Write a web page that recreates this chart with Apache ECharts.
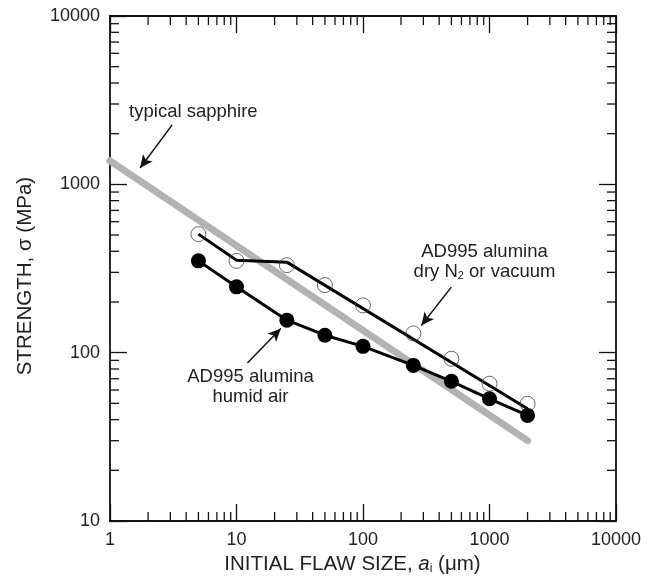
<!DOCTYPE html>
<html>
<head>
<meta charset="utf-8">
<script src="https://cdn.jsdelivr.net/npm/echarts@6/dist/echarts.min.js"></script>
<style>
  html, body { margin: 0; padding: 0; background: #fff; }
  #chart { width: 655px; height: 578px; }
</style>
</head>
<body>
<div id="chart"></div>
<script>
// flaw size (um) and strength (MPa)
const flawSize = [5, 10, 25, 50, 100, 250, 500, 1000, 2000]
const humidAir = [351, 246, 156, 127, 109, 84, 67.6, 53.2, 42.4]
const dryN2 = [506, 351, 331, 252, 191, 130, 92, 65.4, 49.7]
// hand-drawn fit through the dry N2 points
const dryFitX = [5, 10, 25, 2000]
const dryFitY = [506, 354, 345, 46.4]
// typical sapphire band
const sapphireX = [1, 2000]
const sapphireY = [1380, 30]

// axes
const xRange = [1, 10000]
const yRange = [10, 10000]
const xDecades = [1, 10, 100, 1000]
const yDecades = [10, 100, 1000]
const mantissas = [2, 3, 4, 5, 6, 7, 8, 9]

const FONT = 'Liberation Sans, Arial, Helvetica, sans-serif'

const pairs = (xs, ys) => xs.map((x, i) => [x, ys[i]])

let xMinor = []
xDecades.forEach(d => mantissas.forEach(m => xMinor.push([d * m, yRange[0]])))
let yMinor = []
yDecades.forEach(d => mantissas.forEach(m => yMinor.push([xRange[0], d * m])))

const MINOR_LEN = 9

function logAxis (range, pos, showLabel, extra) {
  return Object.assign({
    type: 'log',
    logBase: 10,
    min: range[0],
    max: range[1],
    position: pos,
    axisLine: { onZero: false, lineStyle: { color: '#111', width: 1.8 } },
    axisTick: { inside: true, length: 17, lineStyle: { color: '#111', width: 1.3 } },
    axisLabel: {
      show: showLabel,
      fontFamily: FONT,
      fontSize: 18,
      color: '#222',
      formatter: v => String(Math.round(v))
    },
    splitLine: { show: false }
  }, extra || {})
}

const chart = echarts.init(document.getElementById('chart'))

chart.setOption({
  animation: false,
  backgroundColor: '#fff',
  grid: { left: 110, right: 39, top: 16, bottom: 57, outerBoundsMode: 'none' },
  xAxis: [
    logAxis(xRange, 'bottom', true, {
      name: 'INITIAL FLAW SIZE, {it|a}{sub|i} (\u03bcm)',
      nameLocation: 'middle',
      nameGap: 28,
      nameTextStyle: {
        fontFamily: FONT,
        fontSize: 20.5,
        color: '#222',
        padding: [0, 21, 0, 0],
        rich: {
          it: { fontFamily: FONT, fontSize: 20.5, fontStyle: 'italic', color: '#222' },
          sub: { fontFamily: FONT, fontSize: 12, color: '#222', verticalAlign: 'bottom', lineHeight: 8 }
        }
      },
      axisLabel: {
        fontFamily: FONT, fontSize: 18, color: '#222', margin: 10,
        formatter: v => String(Math.round(v))
      }
    }),
    logAxis(xRange, 'top', false)
  ],
  yAxis: [
    logAxis(yRange, 'left', true, {
      name: 'STRENGTH, \u03c3 (MPa)',
      nameLocation: 'middle',
      nameGap: 74,
      nameTextStyle: { fontFamily: FONT, fontSize: 20.5, color: '#222', padding: [0, 15, 0, 0] },
      axisLabel: {
        fontFamily: FONT, fontSize: 18, color: '#222', margin: 10,
        formatter: v => String(Math.round(v))
      }
    }),
    logAxis(yRange, 'right', false)
  ],
  series: [
    {
      name: 'typical sapphire',
      type: 'line',
      data: pairs(sapphireX, sapphireY),
      symbol: 'none',
      lineStyle: { color: '#b3b3b3', width: 7, cap: 'round' },
      z: 1,
      silent: true
    },
    {
      name: 'dry fit',
      type: 'line',
      data: pairs(dryFitX, dryFitY),
      symbol: 'none',
      lineStyle: { color: '#000', width: 3 },
      z: 3,
      silent: true
    },
    {
      name: 'AD995 alumina dry N2 or vacuum',
      type: 'scatter',
      data: pairs(flawSize, dryN2),
      symbol: 'circle',
      symbolSize: 15,
      itemStyle: { color: 'rgba(255,255,255,0)', borderColor: '#444', borderWidth: 1 },
      z: 4,
      silent: true
    },
    {
      name: 'AD995 alumina humid air',
      type: 'line',
      data: pairs(flawSize, humidAir),
      symbol: 'circle',
      symbolSize: 15,
      showAllSymbol: true,
      lineStyle: { color: '#000', width: 3 },
      itemStyle: { color: '#000' },
      z: 5,
      silent: true,
      markLine: {
        silent: true,
        symbol: ['none', 'arrow'],
        symbolSize: [9, 13],
        label: { show: false },
        lineStyle: { color: '#111', width: 1.5, type: 'solid' },
        data: [
          [{ coord: [3.1, 2254] }, { coord: [1.73, 1250] }],
          [{ coord: [499, 245] }, { coord: [289, 145] }],
          [{ coord: [12.2, 86.7] }, { coord: [22.4, 139] }]
        ]
      }
    },
    {
      // minor ticks on bottom and top
      type: 'custom',
      data: xMinor,
      silent: true,
      z: 6,
      renderItem (params, api) {
        const b = api.coord([api.value(0), yRange[0]])
        const t = api.coord([api.value(0), yRange[1]])
        const style = { stroke: '#111', lineWidth: 1.3 }
        return {
          type: 'group',
          children: [
            { type: 'line', shape: { x1: b[0], y1: b[1], x2: b[0], y2: b[1] - MINOR_LEN }, style },
            { type: 'line', shape: { x1: t[0], y1: t[1], x2: t[0], y2: t[1] + MINOR_LEN }, style }
          ]
        }
      }
    },
    {
      // minor ticks on left and right
      type: 'custom',
      data: yMinor,
      silent: true,
      z: 6,
      renderItem (params, api) {
        const l = api.coord([xRange[0], api.value(1)])
        const r = api.coord([xRange[1], api.value(1)])
        const style = { stroke: '#111', lineWidth: 1.3 }
        return {
          type: 'group',
          children: [
            { type: 'line', shape: { x1: l[0], y1: l[1], x2: l[0] + MINOR_LEN, y2: l[1] }, style },
            { type: 'line', shape: { x1: r[0], y1: r[1], x2: r[0] - MINOR_LEN, y2: r[1] }, style }
          ]
        }
      }
    }
  ]
})

// annotations, anchored in data space
const notes = [
  { at: [4.56, 2692], text: 'typical sapphire' },
  { at: [913, 346], text: 'AD995 alumina\ndry N{sub|2} or vacuum' },
  { at: [12.9, 62.4], text: 'AD995 alumina\nhumid air' }
]

chart.setOption({
  graphic: notes.map(n => {
    const p = chart.convertToPixel({ gridIndex: 0 }, n.at)
    return {
      type: 'text',
      x: p[0],
      y: p[1],
      silent: true,
      z: 10,
      style: {
        text: n.text,
        fontFamily: FONT,
        fontSize: 18.5,
        lineHeight: 20,
        fill: '#222',
        align: 'center',
        verticalAlign: 'middle',
        rich: {
          sub: { fontFamily: FONT, fontSize: 11, fill: '#222', verticalAlign: 'bottom', lineHeight: 8 }
        }
      }
    }
  })
})
</script>
</body>
</html>
